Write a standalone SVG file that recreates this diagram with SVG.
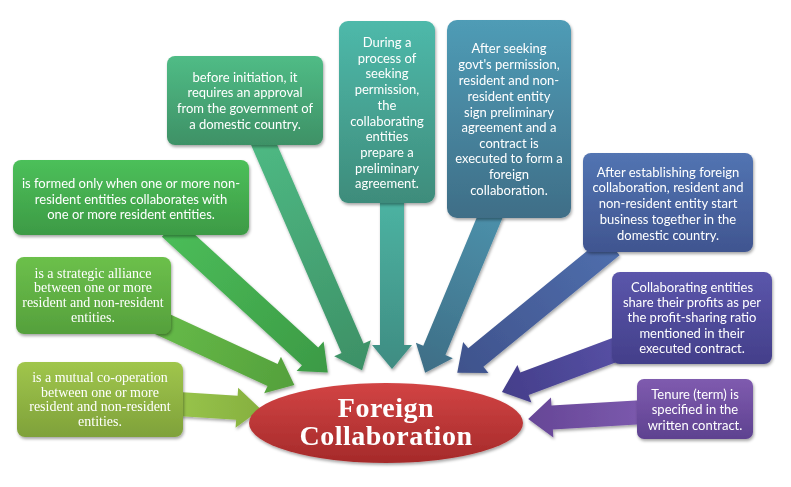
<svg xmlns="http://www.w3.org/2000/svg" width="791" height="487" viewBox="0 0 791 487">
<style>
.s{font-family:Lato,"Liberation Sans",sans-serif;font-size:13px;fill:#fff;text-anchor:middle}
.r{font-family:"Liberation Serif",serif;font-size:14px;fill:#fff;text-anchor:middle}
.t{font-family:"Liberation Serif",serif;font-size:28px;font-weight:bold;fill:#fff;text-anchor:middle;letter-spacing:0.5px}
.box{filter:url(#sh)}
</style>
<defs>
<filter id="sh" x="-10%" y="-10%" width="125%" height="135%"><feDropShadow dx="1" dy="2" stdDeviation="1.5" flood-color="#000" flood-opacity="0.35"/></filter>
<linearGradient id="g1" x1="0" y1="0" x2="0" y2="1"><stop offset="0" stop-color="#A0C64C"/><stop offset="1" stop-color="#7FA13A"/></linearGradient>
<linearGradient id="g2" x1="0" y1="0" x2="0" y2="1"><stop offset="0" stop-color="#6CC04B"/><stop offset="1" stop-color="#55A03C"/></linearGradient>
<linearGradient id="g3" x1="0" y1="0" x2="0" y2="1"><stop offset="0" stop-color="#4CC05A"/><stop offset="1" stop-color="#3D9A45"/></linearGradient>
<linearGradient id="g4" x1="0" y1="0" x2="0" y2="1"><stop offset="0" stop-color="#50BC86"/><stop offset="1" stop-color="#3E9166"/></linearGradient>
<linearGradient id="g5" x1="0" y1="0" x2="0" y2="1"><stop offset="0" stop-color="#4EB9AA"/><stop offset="1" stop-color="#3E8C7B"/></linearGradient>
<linearGradient id="g6" x1="0" y1="0" x2="0" y2="1"><stop offset="0" stop-color="#4F9CB6"/><stop offset="1" stop-color="#3F6E87"/></linearGradient>
<linearGradient id="g7" x1="0" y1="0" x2="0" y2="1"><stop offset="0" stop-color="#5274B2"/><stop offset="1" stop-color="#405590"/></linearGradient>
<linearGradient id="g8" x1="0" y1="0" x2="0" y2="1"><stop offset="0" stop-color="#5B56AB"/><stop offset="1" stop-color="#433F8A"/></linearGradient>
<linearGradient id="g9" x1="0" y1="0" x2="0" y2="1"><stop offset="0" stop-color="#7F5BAF"/><stop offset="1" stop-color="#5E4290"/></linearGradient>
<linearGradient id="a1" x1="0" y1="0" x2="1" y2="0"><stop offset="0" stop-color="#98C44A"/><stop offset="1" stop-color="#86B040"/></linearGradient>
<linearGradient id="a2" x1="0" y1="0" x2="1" y2="0"><stop offset="0" stop-color="#66BA48"/><stop offset="1" stop-color="#54A03C"/></linearGradient>
<linearGradient id="a3" x1="0" y1="0" x2="1" y2="0"><stop offset="0" stop-color="#4BBD59"/><stop offset="1" stop-color="#3C9A45"/></linearGradient>
<linearGradient id="a4" x1="0" y1="0" x2="1" y2="0"><stop offset="0" stop-color="#4EB983"/><stop offset="1" stop-color="#3D9066"/></linearGradient>
<linearGradient id="a5" x1="0" y1="0" x2="1" y2="0"><stop offset="0" stop-color="#4CB3A2"/><stop offset="1" stop-color="#3F8C82"/></linearGradient>
<linearGradient id="a6" x1="0" y1="0" x2="1" y2="0"><stop offset="0" stop-color="#4C90AA"/><stop offset="1" stop-color="#3E6E86"/></linearGradient>
<linearGradient id="a7" x1="0" y1="0" x2="1" y2="0"><stop offset="0" stop-color="#4F6EAC"/><stop offset="1" stop-color="#3F528C"/></linearGradient>
<linearGradient id="a8" x1="0" y1="0" x2="1" y2="0"><stop offset="0" stop-color="#5650A4"/><stop offset="1" stop-color="#443E8A"/></linearGradient>
<linearGradient id="a9" x1="0" y1="0" x2="1" y2="0"><stop offset="0" stop-color="#7C5AAE"/><stop offset="1" stop-color="#664696"/></linearGradient>
<linearGradient id="ge" x1="0" y1="0" x2="0" y2="1"><stop offset="0" stop-color="#D24444"/><stop offset="1" stop-color="#A52A2A"/></linearGradient>
</defs>
<g id="connectors" filter="url(#sh)">
<polygon fill="url(#a1)" transform="translate(178,404) rotate(3.7)" points="0,-12 59,-12 59,-20 83,0 59,20 59,12 0,12"/>
<polygon fill="url(#a2)" transform="translate(160,323) rotate(24.8)" points="0,-12 124,-12 124,-20 148,0 124,20 124,12 0,12"/>
<polygon fill="url(#a3)" transform="translate(170,228) rotate(42.5)" points="0,-12 190,-12 190,-20 214,0 190,20 190,12 0,12"/>
<polygon fill="url(#a4)" transform="translate(262,140) rotate(66.5)" points="0,-12 227,-12 227,-20 251,0 227,20 227,12 0,12"/>
<polygon fill="url(#a5)" transform="translate(392,200) rotate(90)" points="0,-12 145,-12 145,-20 169,0 145,20 145,12 0,12"/>
<polygon fill="url(#a6)" transform="translate(492,212) rotate(112.6)" points="0,-12 150,-12 150,-20 174,0 150,20 150,12 0,12"/>
<polygon fill="url(#a7)" transform="translate(612,246) rotate(140.7)" points="0,-12 176,-12 176,-20 200,0 176,20 176,12 0,12"/>
<polygon fill="url(#a8)" transform="translate(620,348) rotate(159.55)" points="0,-12 102,-12 102,-20 126,0 102,20 102,12 0,12"/>
<polygon fill="url(#a9)" transform="translate(645,412) rotate(176.6)" points="0,-12 93,-12 93,-20 117,0 93,20 93,12 0,12"/>
</g>
<g id="n1"><rect class="box" x="17" y="362" width="166" height="75" rx="8" fill="url(#g1)"/>
<text class="r" x="100"><tspan x="100" y="382">is a mutual co-operation</tspan><tspan x="100" y="397">between one or more</tspan><tspan x="100" y="411">resident and non-resident</tspan><tspan x="100" y="426">entities.</tspan></text></g>
<g id="n2"><rect class="box" x="16" y="257" width="155" height="77" rx="8" fill="url(#g2)"/>
<text class="r"><tspan x="93" y="278">is a strategic alliance</tspan><tspan x="93" y="292">between one or more</tspan><tspan x="93" y="307">resident and non-resident</tspan><tspan x="93" y="322">entities.</tspan></text></g>
<g id="n3"><rect class="box" x="13" y="160" width="236" height="75" rx="8" fill="url(#g3)"/>
<text class="s"><tspan x="131" y="188">is formed only when one or more non-</tspan><tspan x="131" y="204">resident entities collaborates with</tspan><tspan x="131" y="219">one or more resident entities.</tspan></text></g>
<g id="n4"><rect class="box" x="167" y="56" width="156" height="89" rx="8" fill="url(#g4)"/>
<text class="s"><tspan x="245" y="82">before initiation, it</tspan><tspan x="245" y="97">requires an approval</tspan><tspan x="245" y="113">from the government of</tspan><tspan x="245" y="129">a domestic country.</tspan></text></g>
<g id="n5"><rect class="box" x="339" y="21" width="96" height="182" rx="9" fill="url(#g5)"/>
<text class="s"><tspan x="387" y="47">During a</tspan><tspan x="387" y="63">process of</tspan><tspan x="387" y="78">seeking</tspan><tspan x="387" y="94">permission,</tspan><tspan x="387" y="110">the</tspan><tspan x="387" y="126">collaborating</tspan><tspan x="387" y="141">entities</tspan><tspan x="387" y="157">prepare a</tspan><tspan x="387" y="173">preliminary</tspan><tspan x="387" y="188">agreement.</tspan></text></g>
<g id="n6"><rect class="box" x="447" y="20" width="124" height="198" rx="10" fill="url(#g6)"/>
<text class="s"><tspan x="509" y="53">After seeking</tspan><tspan x="509" y="69">govt's permission,</tspan><tspan x="509" y="85">resident and non-</tspan><tspan x="509" y="101">resident entity</tspan><tspan x="509" y="117">sign preliminary</tspan><tspan x="509" y="132">agreement and a</tspan><tspan x="509" y="148">contract is</tspan><tspan x="509" y="163">executed to form a</tspan><tspan x="509" y="179">foreign</tspan><tspan x="509" y="195">collaboration.</tspan></text></g>
<g id="n7"><rect class="box" x="583" y="153" width="170" height="99" rx="8" fill="url(#g7)"/>
<text class="s"><tspan x="668" y="177">After establishing foreign</tspan><tspan x="668" y="192">collaboration, resident and</tspan><tspan x="668" y="208">non-resident entity start</tspan><tspan x="668" y="224">business together in the</tspan><tspan x="668" y="240">domestic country.</tspan></text></g>
<g id="n8"><rect class="box" x="612" y="272" width="160" height="92" rx="8" fill="url(#g8)"/>
<text class="s"><tspan x="692" y="292">Collaborating entities</tspan><tspan x="692" y="307">share their profits as per</tspan><tspan x="692" y="322">the profit-sharing ratio</tspan><tspan x="692" y="338">mentioned in their</tspan><tspan x="692" y="353">executed contract.</tspan></text></g>
<g id="n9"><rect class="box" x="637" y="379" width="116" height="60" rx="7" fill="url(#g9)"/>
<text class="s"><tspan x="695" y="399">Tenure (term) is</tspan><tspan x="695" y="414">specified in the</tspan><tspan x="695" y="430">written contract.</tspan></text></g>
<g id="center"><ellipse cx="386" cy="423" rx="137" ry="40" fill="url(#ge)" filter="url(#sh)"/>
<text class="t"><tspan x="386" y="417">Foreign</tspan><tspan x="386" y="445">Collaboration</tspan></text></g>
</svg>
